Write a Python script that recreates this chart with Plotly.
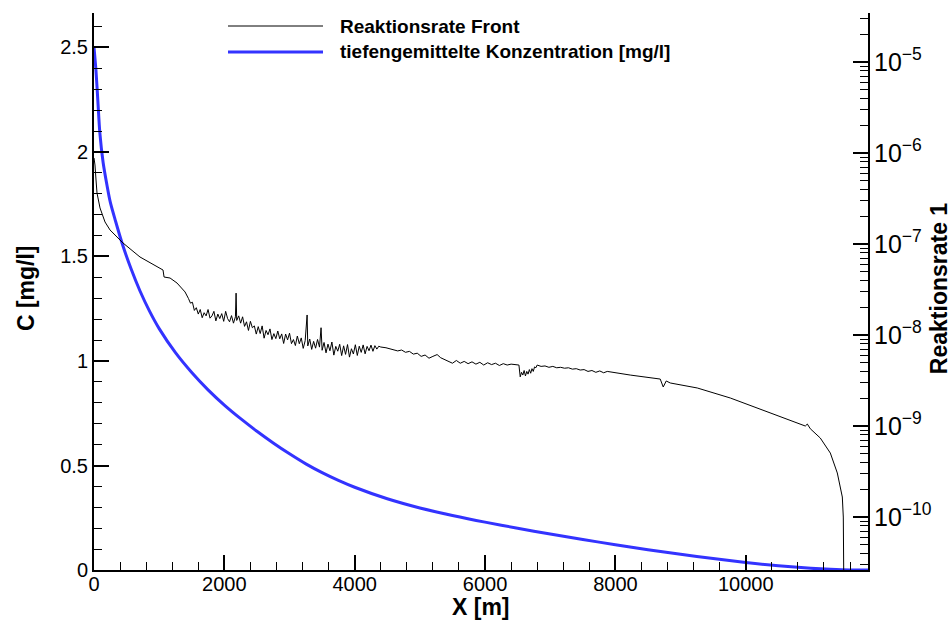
import plotly.graph_objects as go

# ---- Data ----
# blue curve: depth-averaged concentration [mg/l]
conc_x = [0, 30, 60, 90, 140, 200, 250, 330, 445, 570, 706, 850, 1000, 1250, 1500, 1750,
          2000, 2250, 2500, 2750, 3000, 3250, 3500, 3750, 4000, 4500, 5000, 5500, 6000,
          6500, 7000, 7500, 8000, 8500, 9000, 9500, 10000, 10500, 11000, 11300, 11600, 11880]
conc_c = [2.50, 2.39, 2.24, 2.09, 1.95, 1.84, 1.76, 1.67, 1.55, 1.44, 1.335, 1.24, 1.155,
          1.04, 0.945, 0.862, 0.789, 0.724, 0.664, 0.608, 0.556, 0.508, 0.466, 0.429,
          0.396, 0.341, 0.297, 0.261, 0.229, 0.200, 0.172, 0.146, 0.121, 0.097, 0.075,
          0.055, 0.036, 0.020, 0.008, 0.003, 0.0, 0.0]

# black curve: reaction rate front, given as log10 of the value
rate_x = [0, 15, 31, 46, 92, 169, 246, 445, 706, 936, 1059, 1075, 1167, 1274, 1397, 1450,
          1480, 1510, 1540, 1570, 1600, 1630, 1660, 1690, 1720, 1750, 1780, 1810, 1840,
          1870, 1900, 1930, 1960, 1990, 2020, 2050, 2080, 2110, 2140, 2170, 2180, 2190,
          2220, 2250, 2280, 2310, 2340, 2370, 2400, 2430, 2460, 2490, 2520, 2550, 2580,
          2610, 2640, 2670, 2700, 2730, 2760, 2790, 2820, 2850, 2880, 2910, 2940, 2970,
          3000, 3030, 3060, 3090, 3120, 3150, 3180, 3210, 3240, 3270, 3280, 3310, 3340,
          3370, 3400, 3430, 3460, 3484, 3500, 3530, 3560, 3590, 3620, 3650, 3680, 3710,
          3740, 3770, 3800, 3830, 3860, 3890, 3920, 3950, 3980, 4010, 4040, 4070, 4100,
          4130, 4160, 4190, 4220, 4250, 4280, 4310, 4340, 4370, 4400,
          4480, 4540, 4600, 4660, 4720, 4780, 4840, 4900, 4960, 5020, 5080, 5140,
          5200, 5265, 5320, 5380, 5440, 5500, 5560, 5620, 5680, 5740, 5800, 5860, 5920,
          5980, 6040, 6100, 6160, 6220, 6280, 6340, 6400, 6460, 6520,
          6540, 6560, 6580, 6600, 6620, 6640, 6660, 6680, 6700, 6720, 6740, 6760, 6780, 6800,
          6860, 6920, 6980, 7040, 7100, 7160, 7220, 7280, 7340, 7400, 7460, 7520, 7580,
          7640, 7700, 7760, 7820, 7875, 8228, 8688, 8734, 8780, 8842, 9256, 9763, 10269,
          10684, 10914, 10945, 10991, 11144, 11298, 11405, 11482, 11497, 11513]
rate_log10 = [-6.055, -6.132, -6.297, -6.440, -6.604, -6.758, -6.846, -6.989, -7.143, -7.231,
              -7.286, -7.363, -7.374, -7.429, -7.527, -7.60,
              -7.65, -7.64, -7.73, -7.70, -7.77, -7.72, -7.81, -7.755, -7.79, -7.72, -7.815,
              -7.79, -7.74, -7.845, -7.77, -7.82, -7.765, -7.85, -7.74, -7.82, -7.855, -7.787,
              -7.87, -7.80, -7.54, -7.84,
              -7.79, -7.87, -7.80, -7.905, -7.855, -7.95, -7.85, -7.92, -7.90, -7.99, -7.908,
              -7.984, -7.90, -8.035, -7.95, -7.997, -7.933, -8.05, -7.985, -8.04, -7.956,
              -8.042, -7.988, -8.093, -7.989, -8.054, -7.98, -8.095, -8.05, -8.116, -8.011,
              -8.096, -8.032, -8.147, -8.063, -7.78, -8.12, -8.044, -8.158, -8.07, -8.145,
              -8.049, -8.133, -7.92, -8.168, -8.082, -8.196, -8.10, -8.173, -8.077, -8.221,
              -8.125, -8.178, -8.102, -8.226, -8.119, -8.213, -8.105, -8.243, -8.151, -8.209,
              -8.107, -8.225, -8.123, -8.191, -8.109, -8.207, -8.125, -8.173, -8.111, -8.179,
              -8.117, -8.155, -8.123, -8.132,
              -8.14, -8.15, -8.16, -8.175, -8.165, -8.19, -8.18, -8.21, -8.20, -8.235, -8.22,
              -8.255, -8.235, -8.215, -8.25, -8.27, -8.285, -8.31, -8.28, -8.31, -8.29,
              -8.315, -8.295, -8.32, -8.30, -8.33, -8.305, -8.325, -8.31, -8.335, -8.315,
              -8.33, -8.32, -8.325, -8.33,
              -8.46, -8.41, -8.44, -8.39, -8.45, -8.40, -8.43, -8.38, -8.42, -8.37, -8.40,
              -8.35, -8.36, -8.33,
              -8.345, -8.34, -8.355, -8.345, -8.36, -8.355, -8.365, -8.36, -8.375, -8.37,
              -8.385, -8.38, -8.40, -8.39, -8.41, -8.395, -8.415, -8.40, -8.44, -8.484,
              -8.571, -8.505, -8.527, -8.582, -8.692, -8.824, -8.934, -9.000, -8.978, -9.03,
              -9.132, -9.297, -9.516, -9.780, -10.0, -11.5]
rate = [10 ** v for v in rate_log10]

x_ticks = [0, 2000, 4000, 6000, 8000, 10000]
x_tick_text = ["0", "2000", "4000", "6000", "8000", "10000"]
c_ticks = [0, 0.5, 1, 1.5, 2, 2.5]
c_tick_text = ["0", "0.5", "1", "1.5", "2", "2.5"]

legend_names = ["Reaktionsrate Front", "tiefengemittelte Konzentration [mg/l]"]
BLUE = "#3333ff"
FONT = "Liberation Sans, Arial, sans-serif"

fig = go.Figure()
fig.add_trace(go.Scatter(x=rate_x, y=rate, mode="lines", yaxis="y2",
                         line=dict(color="black", width=1), name=legend_names[0],
                         showlegend=False))
fig.add_trace(go.Scatter(x=conc_x, y=conc_c, mode="lines", line_shape="spline",
                         line=dict(color=BLUE, width=3, smoothing=0.8), name=legend_names[1],
                         showlegend=False))

tickfont = dict(family=FONT, size=20, color="black")
fig.update_layout(
    width=951, height=623,
    margin=dict(l=94, r=83, t=13, b=53),
    paper_bgcolor="white", plot_bgcolor="white",
    xaxis=dict(range=[0, 11876], tickmode="array", tickvals=x_ticks, ticktext=x_tick_text,
               ticks="inside", ticklen=15, tickwidth=2, tickcolor="black",
               ticklabelstandoff=-5,
               showline=True, linecolor="black", linewidth=2, showgrid=False,
               zeroline=False, tickfont=tickfont,
               minor=dict(dtick=400, tick0=0, ticks="inside", ticklen=8, tickwidth=1,
                          tickcolor="black", showgrid=False)),
    yaxis=dict(range=[0, 2.665], tickmode="array", tickvals=c_ticks, ticktext=c_tick_text,
               ticks="inside", ticklen=15, tickwidth=2, tickcolor="black",
               showline=True, linecolor="black", linewidth=2, showgrid=False,
               zeroline=False, tickfont=tickfont,
               minor=dict(dtick=0.1, tick0=0, ticks="inside", ticklen=8, tickwidth=1,
                          tickcolor="black", showgrid=False)),
    yaxis2=dict(type="log", range=[-10.582, -4.462], overlaying="y", side="right",
                tickmode="linear", tick0=0, dtick=1, exponentformat="power",
                ticks="inside", ticklen=15, tickwidth=2, tickcolor="black",
                showline=True, linecolor="black", linewidth=2, showgrid=False,
                zeroline=False, tickfont=tickfont,
                minor=dict(dtick="D1", ticks="inside", ticklen=8, tickwidth=1,
                           tickcolor="black", showgrid=False)),
)

# axis titles
title_font = dict(family=FONT, size=23, color="black")
fig.add_annotation(text="<b>C [mg/l]</b>", xref="paper", yref="paper", x=-0.0879, y=0.506,
                   textangle=-90, showarrow=False, font=title_font,
                   xanchor="center", yanchor="middle")
fig.add_annotation(text="<b>Reaktionsrate 1</b>", xref="paper", yref="paper", x=1.0917,
                   y=0.506, textangle=-90, showarrow=False, font=title_font,
                   xanchor="center", yanchor="middle")
fig.add_annotation(text="<b>X [m]</b>", xref="paper", yref="paper", x=0.5, y=-0.0664,
                   showarrow=False, font=title_font, xanchor="center", yanchor="middle")

# manual legend
leg_font = dict(family=FONT, size=19, color="black")
lx0, lx1, ltx = (228 - 94) / 774, (323 - 94) / 774, (338 - 94) / 774
for name, color, width, ypix in [(legend_names[0], "black", 1, 26),
                                 (legend_names[1], BLUE, 3, 52)]:
    yp = (570 - ypix) / 557
    fig.add_shape(type="line", xref="paper", yref="paper", x0=lx0, x1=lx1, y0=yp, y1=yp,
                  line=dict(color=color, width=width))
    fig.add_annotation(text="<b>" + name + "</b>", xref="paper", yref="paper", x=ltx, y=yp,
                       showarrow=False, font=leg_font, xanchor="left", yanchor="middle")

fig.write_html("out.html")
